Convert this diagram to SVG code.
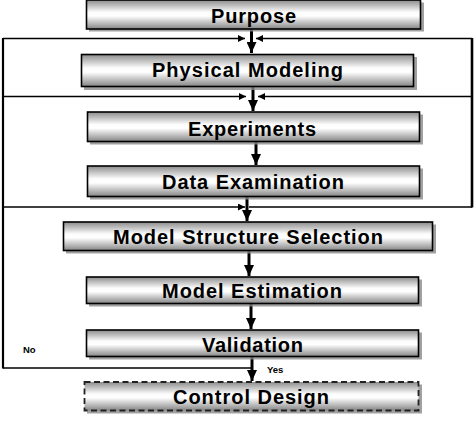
<svg xmlns="http://www.w3.org/2000/svg" width="474" height="422" viewBox="0 0 474 422">
<defs>
<linearGradient id="g" x1="0" y1="0" x2="0" y2="1">
<stop offset="0" stop-color="#8c8c8c"/>
<stop offset="0.42" stop-color="#fcfcfc"/>
<stop offset="0.55" stop-color="#ffffff"/>
<stop offset="1" stop-color="#858585"/>
</linearGradient>
<marker id="big" markerUnits="userSpaceOnUse" markerWidth="11" markerHeight="10" viewBox="0 0 11 10" refX="11" refY="5" orient="auto">
<path d="M0,0 L11,5 L0,10 z" fill="#000"/>
</marker>
<marker id="small" markerUnits="userSpaceOnUse" markerWidth="7" markerHeight="7" viewBox="0 0 7 7" refX="7" refY="3.5" orient="auto">
<path d="M0,0 L7,3.5 L0,7 z" fill="#000"/>
</marker>
</defs>
<style>
.shadow{fill:#8a8a8a;opacity:0.8}
.box{fill:url(#g);stroke:#000;stroke-width:1.6}
.dash{fill:url(#g);stroke:#222;stroke-width:1.8;stroke-dasharray:6,3.5}
.lbl{font-family:"Liberation Sans",Arial,sans-serif;font-weight:bold;font-size:20px;fill:#000}
.sm{font-family:"Liberation Sans",Arial,sans-serif;font-weight:bold;font-size:9.5px;fill:#000}
.ln{fill:none;stroke:#000;stroke-width:1.5}
.vl{fill:none;stroke:#000;stroke-width:2.2}
.ar{fill:none;stroke:#000;stroke-width:3}
</style>
<rect width="474" height="422" fill="#fff"/>
<g id="connectors">
<path class="ln" d="M3,38.5 H245" marker-end="url(#small)"/>
<path class="ln" d="M472,38.5 H256" marker-end="url(#small)"/>
<path class="ln" d="M3,96.5 H246" marker-end="url(#small)"/>
<path class="ln" d="M472,96.5 H258" marker-end="url(#small)"/>
<path class="ln" d="M3,207 H245" marker-end="url(#small)"/>
<path class="ln" d="M472,207 H249"/>
<path class="ln" d="M252,368 H3"/>
<path class="vl" d="M3,38 V368.5"/>
<path class="vl" d="M472,38 V207.5" style="stroke-width:2.6"/>
<path class="ar" d="M251.5,29 V53" marker-end="url(#big)"/>
<path class="ar" d="M253,87 V111" marker-end="url(#big)"/>
<path class="ar" d="M256,142 V165" marker-end="url(#big)"/>
<path class="ar" d="M247,197 V221" marker-end="url(#big)"/>
<path class="ar" d="M249,251 V276" marker-end="url(#big)"/>
<path class="ar" d="M251,304 V329" marker-end="url(#big)"/>
<path class="ar" d="M252,357 V381" marker-end="url(#big)"/>
<text class="sm" x="23" y="353">No</text>
<text class="sm" x="267" y="373">Yes</text>
</g>
<g id="purpose">
<rect class="shadow" x="89" y="2.5" width="335" height="29"/>
<rect class="box" x="86.5" y="0" width="334" height="29"/>
<text class="lbl" x="211" y="23" textLength="85" lengthAdjust="spacing">Purpose</text>
</g>
<g id="physical-modeling">
<rect class="shadow" x="84" y="57" width="333" height="33"/>
<rect class="box" x="81.5" y="54.5" width="332" height="32"/>
<text class="lbl" x="152" y="77" textLength="191" lengthAdjust="spacing">Physical Modeling</text>
</g>
<g id="experiments">
<rect class="shadow" x="90" y="114.5" width="333" height="30"/>
<rect class="box" x="87.5" y="112" width="332" height="29.5"/>
<text class="lbl" x="188" y="136" textLength="128" lengthAdjust="spacing">Experiments</text>
</g>
<g id="data-examination">
<rect class="shadow" x="90" y="168.5" width="333" height="31"/>
<rect class="box" x="87.5" y="166" width="332" height="30.5"/>
<text class="lbl" x="162" y="189" textLength="182" lengthAdjust="spacing">Data Examination</text>
</g>
<g id="model-structure-selection">
<rect class="shadow" x="66" y="224.5" width="370" height="29"/>
<rect class="box" x="63.5" y="222" width="369" height="28.5"/>
<text class="lbl" x="113" y="244" textLength="270" lengthAdjust="spacing">Model Structure Selection</text>
</g>
<g id="model-estimation">
<rect class="shadow" x="89" y="279.5" width="333" height="27"/>
<rect class="box" x="86.5" y="277" width="332" height="26.5"/>
<text class="lbl" x="162" y="298" textLength="180" lengthAdjust="spacing">Model Estimation</text>
</g>
<g id="validation">
<rect class="shadow" x="89" y="332.5" width="333" height="27"/>
<rect class="box" x="86.5" y="330" width="332" height="26.5"/>
<text class="lbl" x="202" y="352" textLength="101" lengthAdjust="spacing">Validation</text>
</g>
<g id="control-design">
<rect class="shadow" x="87" y="384.5" width="335" height="29"/>
<rect class="dash" x="84.5" y="382" width="334" height="28.5"/>
<text class="lbl" x="173" y="404" textLength="156" lengthAdjust="spacing">Control Design</text>
</g>
</svg>
